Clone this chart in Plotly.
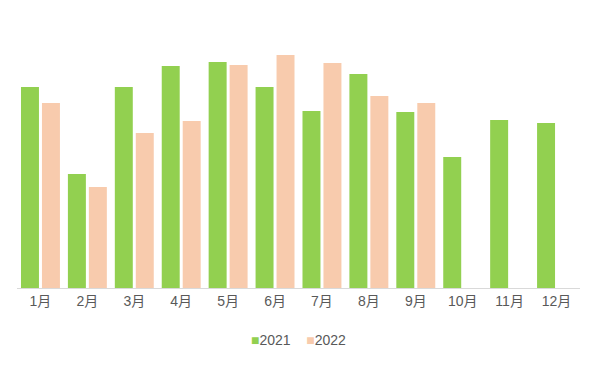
import plotly.graph_objects as go

months = ["1月", "2月", "3月", "4月", "5月", "6月", "7月", "8月", "9月", "10月", "11月", "12月"]
s2021 = [201, 114, 201, 222, 226, 201, 177, 214, 176, 131, 168, 165]
s2022 = [185, 101, 155, 167, 223, 233, 225, 192, 185, None, None, None]
series_names = ["2021", "2022"]
colors = ["#92D050", "#F8CBAD"]

fig = go.Figure()
for name, vals, col in zip(series_names, [s2021, s2022], colors):
    fig.add_trace(go.Bar(name=name, x=months, y=vals, marker_color=col, marker_line_width=0))

legend_text = "&nbsp;&nbsp;&nbsp;&nbsp;".join(
    f"<span style='color:{c}'>■</span>{n}" for n, c in zip(series_names, colors)
)
fig.add_annotation(text=legend_text, xref="paper", yref="paper", x=0.5, y=-0.208,
                   xanchor="center", yanchor="middle", showarrow=False,
                   font=dict(size=14, color="#595959"))

fig.update_layout(
    width=598, height=368,
    margin=dict(l=17, r=18, t=38, b=80),
    paper_bgcolor="white", plot_bgcolor="white",
    barmode="group", bargap=0.106, bargroupgap=0.143,
    font=dict(family="Liberation Sans, Arial, Noto Sans CJK SC", size=14, color="#595959"),
    showlegend=False,
    xaxis=dict(showline=True, linecolor="#D9D9D9", linewidth=1, ticks="",
               showgrid=False, tickfont=dict(size=14, color="#595959")),
    yaxis=dict(range=[0, 250], visible=False, showgrid=False, zeroline=False),
)

fig.write_html("out.html", post_script="document.body.style.margin='0';",
               config={"displayModeBar": False})
